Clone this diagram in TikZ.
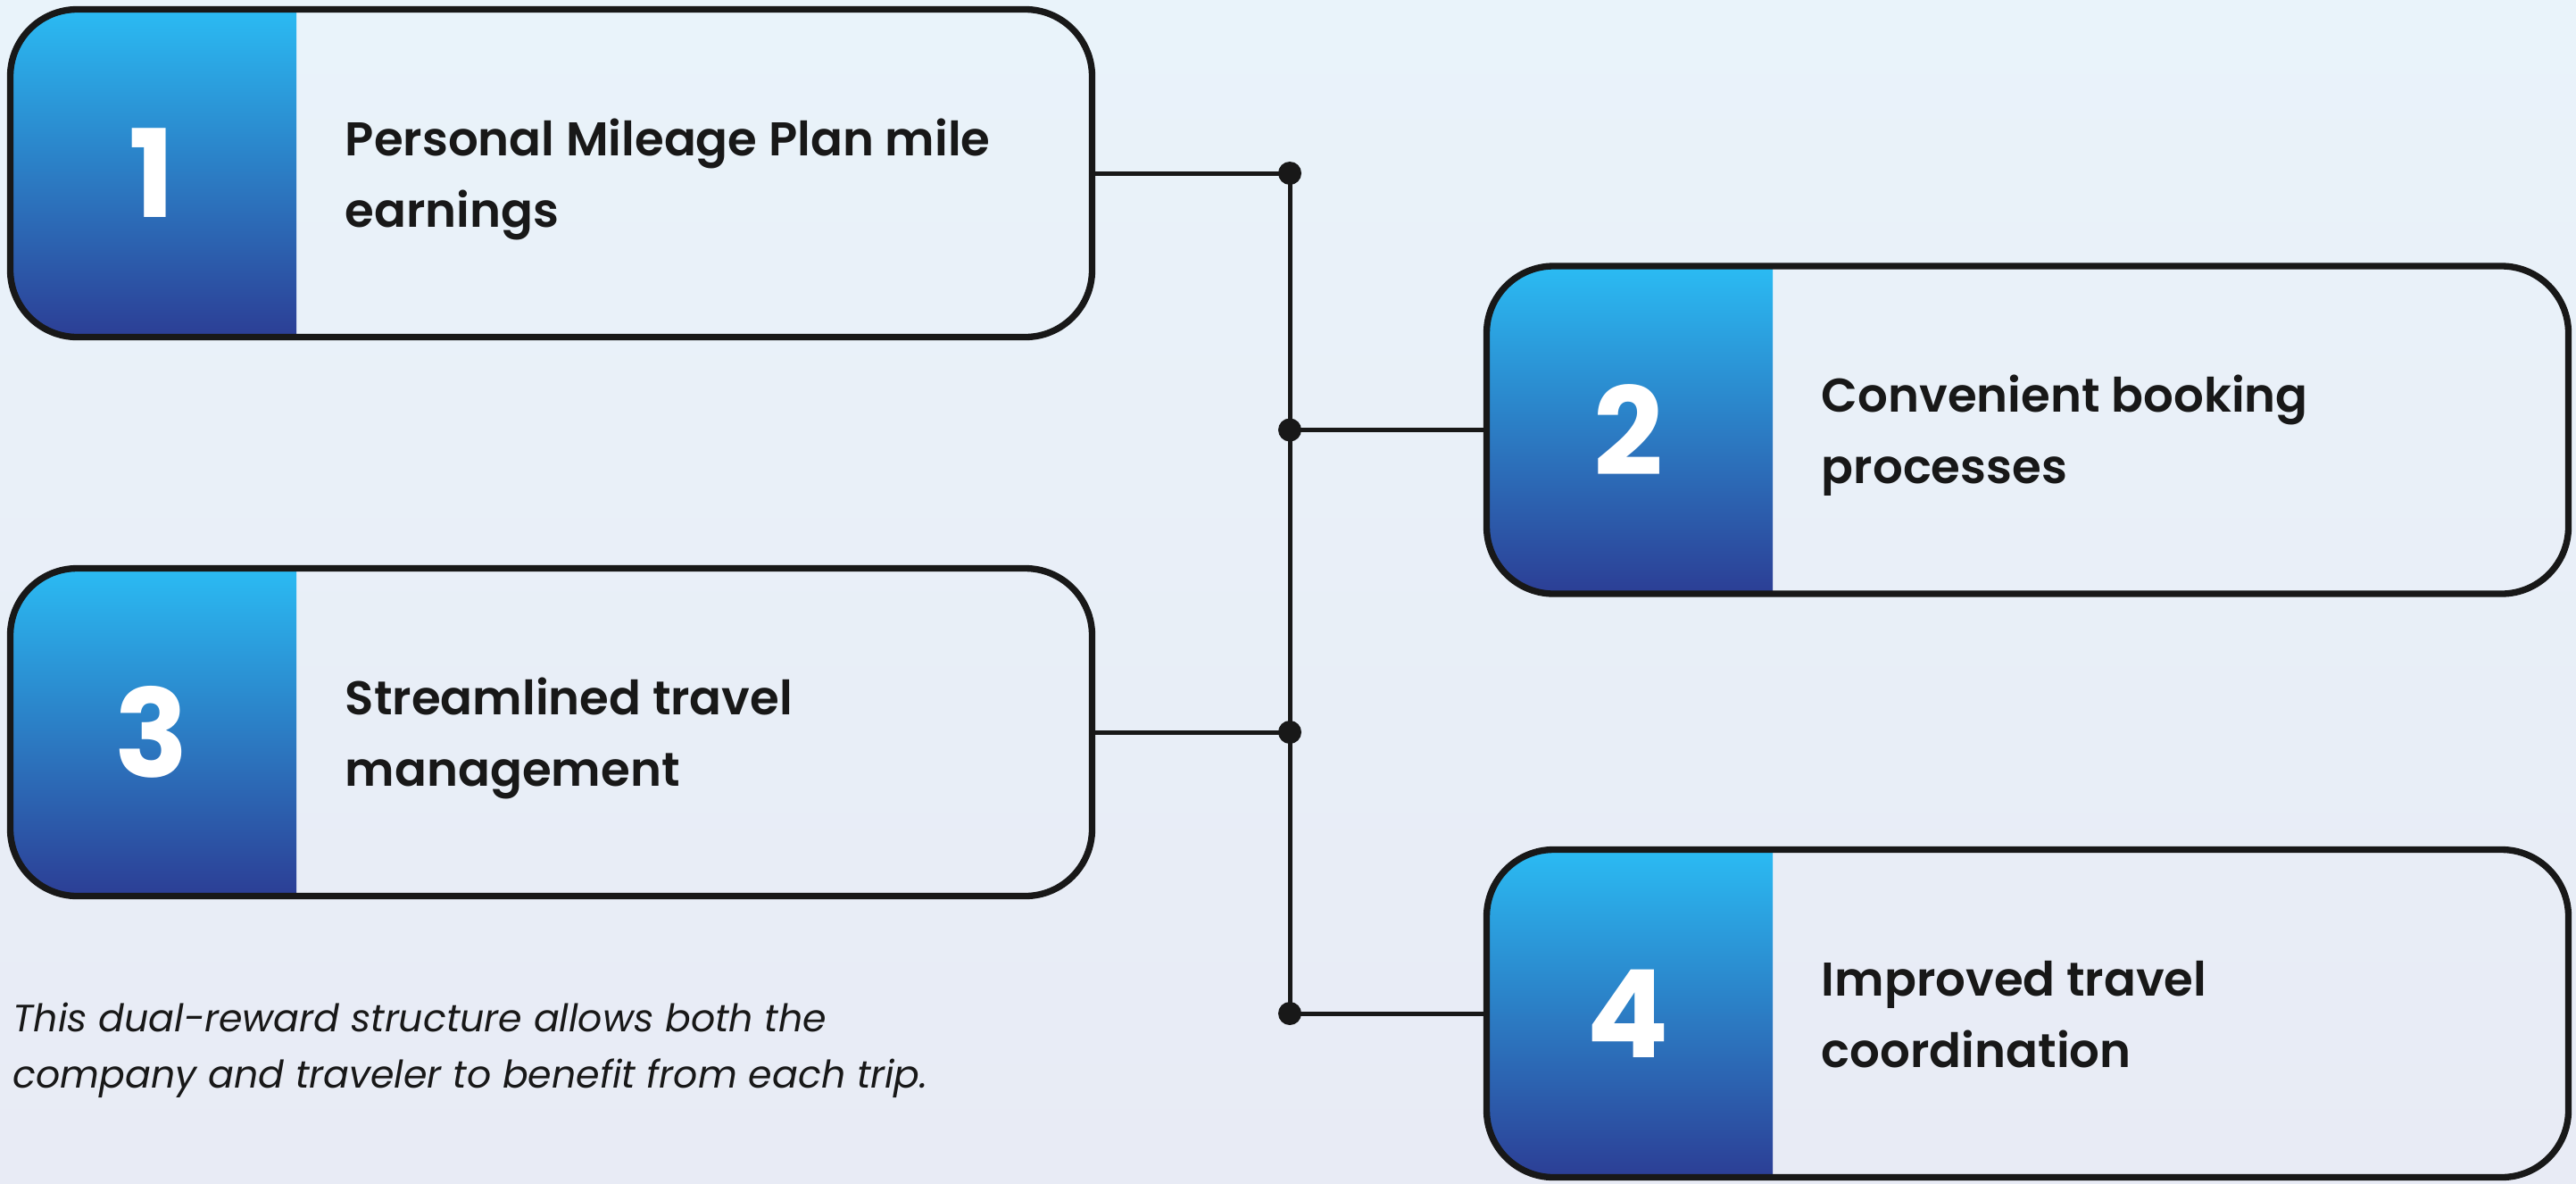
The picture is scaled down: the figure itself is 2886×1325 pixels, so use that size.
\documentclass[tikz,border=0pt]{standalone}
\usepackage{fontspec}
\setmainfont{Poppins}
\newfontfamily\semifont{Poppins SemiBold}
\usetikzlibrary{calc}
\definecolor{bgtop}{HTML}{E9F3FA}
\definecolor{bgbot}{HTML}{E8EBF5}
\definecolor{paneltop}{HTML}{2BBBF3}
\definecolor{panelbot}{HTML}{2C3E95}
\definecolor{ink}{HTML}{181818}
\tikzset{
  card/.style={draw=ink, line width=2.2pt, rounded corners=22.5pt,
    minimum width=363.6pt, minimum height=110.1pt, inner sep=0pt, outer sep=0pt,
    path picture={\fill[sharp corners, top color=paneltop, bottom color=panelbot]
      (path picture bounding box.north west) rectangle ([xshift=96.2pt]path picture bounding box.south west);}},
  num/.style={text=white, font=\fontsize{41}{41}\selectfont\bfseries, inner sep=0pt},
  cardtext/.style={text=ink, font=\fontsize{15.9}{24}\selectfont\semifont, align=left, anchor=base west, inner sep=0pt},
  note/.style={text=ink, font=\fontsize{12.8}{18.9}\selectfont\itshape, align=left, anchor=base west, inner sep=0pt},
  link/.style={draw=ink, line width=1.5pt}
}
\begin{document}
\begin{tikzpicture}[x=0.3pt, y=-0.3pt]
\fill[top color=bgtop, bottom color=bgbot] (0,0) rectangle (2886,1325);
\foreach \i/\x/\y/\txt in {1/617.5/194/{Personal Mileage Plan mile\\earnings},
                          2/2271.5/481.5/{Convenient booking\\processes},
                          3/617.5/820/{Streamlined travel\\management},
                          4/2271.5/1135/{Improved travel\\coordination}}{
  \node[card] (b\i) at (\x,\y) {};
  \node[num] (n\i) at ([xshift=47.6pt]b\i.west) {\i};
  \node[cardtext] (t\i) at ([xshift=112.4pt,yshift=-18pt]b\i.west) {\txt};
}
\coordinate (trunk) at (1445,0);
\coordinate (j1) at (b1.east -| trunk);
\coordinate (j2) at (b2.west -| trunk);
\coordinate (j3) at (b3.east -| trunk);
\coordinate (j4) at (b4.west -| trunk);
\draw[link] (b1.east) -- (j1);
\draw[link] (j2) -- (b2.west);
\draw[link] (b3.east) -- (j3);
\draw[link] (j4) -- (b4.west);
\draw[link] (j1) -- (j4);
\foreach \j in {j1,j2,j3,j4}
  \fill[ink] (\j) circle (3.9pt);
\node[note] (caption) at (14,1218) {This dual-reward structure allows both the\\company and traveler to benefit from each trip.};
\end{tikzpicture}
\end{document}
